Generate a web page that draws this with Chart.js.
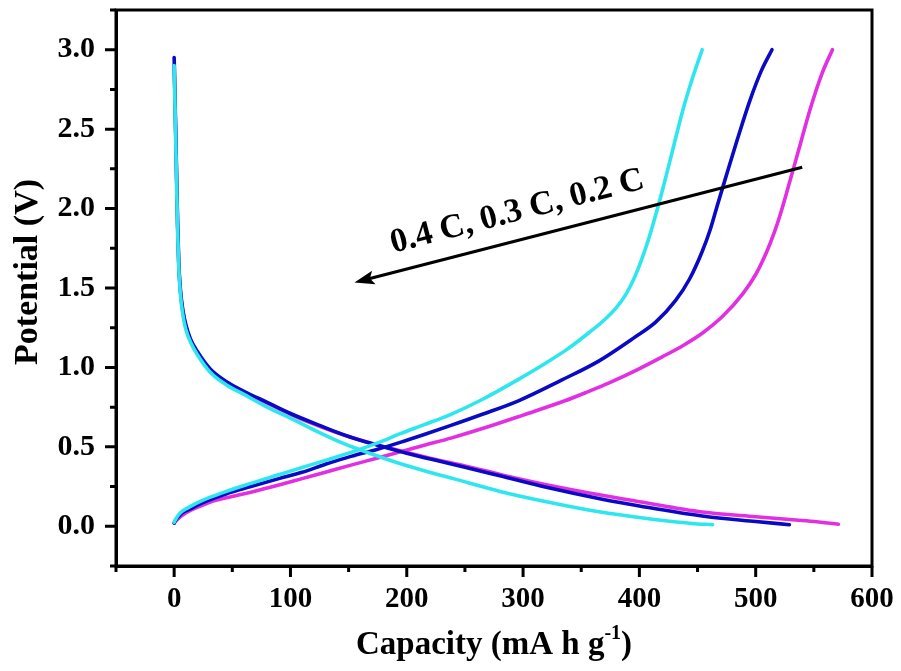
<!DOCTYPE html>
<html>
<head>
<meta charset="utf-8">
<script src="https://cdn.jsdelivr.net/npm/chart.js@4.4.0/dist/chart.umd.min.js"></script>
<style>
  html, body { margin: 0; padding: 0; background: #fff; }
  #wrap { width: 901px; height: 671px; }
</style>
</head>
<body>
<div id="wrap"><canvas id="c" width="901" height="671"></canvas></div>
<script>
// ---- data (capacity in mA h g^-1, potential in V) ----
const rateLabels = ['0.4 C', '0.3 C', '0.2 C'];

const discharge04X = [0, 1, 2, 3, 4, 5.5, 7.5, 10, 14, 20, 31, 45, 60, 80, 103, 125, 146, 168, 190, 215, 240, 281, 320, 368, 400, 426, 445, 463];
const discharge04Y = [2.9, 2.55, 2.2, 1.85, 1.62, 1.45, 1.33, 1.24, 1.16, 1.08, 0.97, 0.89, 0.83, 0.75, 0.67, 0.59, 0.52, 0.46, 0.405, 0.35, 0.30, 0.218, 0.155, 0.088, 0.055, 0.032, 0.018, 0.01];

const discharge03X = [0, 1, 2, 3, 4, 5.5, 7.5, 10, 14, 20, 31, 45, 60, 80, 100, 125, 150, 175, 200, 225, 250, 281, 320, 368, 400, 454, 500, 529];
const discharge03Y = [2.95, 2.6, 2.25, 1.9, 1.65, 1.48, 1.36, 1.27, 1.18, 1.1, 0.99, 0.91, 0.85, 0.78, 0.71, 0.635, 0.565, 0.51, 0.46, 0.415, 0.372, 0.316, 0.245, 0.17, 0.128, 0.065, 0.03, 0.01];

const discharge02X = [0, 1, 2, 3, 4, 5.5, 7.5, 10, 14, 20, 31, 45, 60, 80, 100, 125, 150, 175, 200, 225, 250, 281, 320, 368, 400, 454, 500, 529, 550, 571];
const discharge02Y = [2.9, 2.58, 2.22, 1.88, 1.64, 1.47, 1.35, 1.26, 1.17, 1.09, 0.985, 0.905, 0.845, 0.775, 0.705, 0.63, 0.565, 0.512, 0.465, 0.42, 0.38, 0.325, 0.262, 0.195, 0.155, 0.09, 0.06, 0.043, 0.03, 0.013];

const charge04X = [0, 1, 3, 7, 14, 22, 30, 45, 66, 90, 110, 130, 152, 175, 195, 215, 238, 264, 296, 320, 339, 356, 370, 380, 388, 396, 402, 408, 414, 420, 428, 437, 446, 454];
const charge04Y = [0.025, 0.04, 0.065, 0.095, 0.125, 0.155, 0.18, 0.22, 0.27, 0.325, 0.37, 0.415, 0.465, 0.525, 0.585, 0.64, 0.705, 0.795, 0.925, 1.03, 1.12, 1.215, 1.3, 1.375, 1.455, 1.57, 1.68, 1.81, 1.96, 2.12, 2.35, 2.61, 2.83, 3.0];

const charge03X = [0, 1, 3, 7, 14, 22, 30, 45, 66, 90, 110, 130, 152, 175, 195, 215, 238, 265, 296, 333, 365, 396, 414, 431, 443, 454, 461, 467, 474, 484, 495, 505, 514];
const charge03Y = [0.02, 0.035, 0.055, 0.085, 0.11, 0.14, 0.165, 0.205, 0.25, 0.3, 0.34, 0.39, 0.44, 0.485, 0.53, 0.578, 0.635, 0.705, 0.79, 0.92, 1.04, 1.19, 1.285, 1.42, 1.555, 1.73, 1.87, 2.02, 2.19, 2.43, 2.68, 2.87, 3.0];

const charge02X = [0, 1, 3, 7, 14, 22, 30, 45, 66, 90, 110, 130, 152, 175, 195, 215, 238, 265, 300, 336, 356, 374, 398, 420, 438, 454, 472, 489, 500, 509, 516, 521, 527, 537, 547, 557, 566];
const charge02Y = [0.02, 0.03, 0.045, 0.07, 0.1, 0.125, 0.15, 0.18, 0.215, 0.26, 0.3, 0.34, 0.385, 0.43, 0.47, 0.51, 0.555, 0.615, 0.7, 0.79, 0.848, 0.903, 0.985, 1.068, 1.14, 1.215, 1.325, 1.465, 1.585, 1.72, 1.85, 1.96, 2.11, 2.37, 2.63, 2.85, 3.0];

// axis tick settings
const xMin = -50, xMax = 600, xStep = 50;
const yMin = -0.25, yMax = 3.25, yStep = 0.25;

// annotation (data units)
const arrowTail = { x: 540, y: 2.26 };
const arrowHead = { x: 155, y: 1.535 };
const annotationText = '0.4 C, 0.3 C, 0.2 C';
const annotationPos = { x: 295, y: 1.98 };

const colors = { '0.4 C': '#2EE6EE', '0.3 C': '#0A0AC4', '0.2 C': '#E22FE2' };

function pts(xs, ys) { return xs.map((x, i) => ({ x: x, y: ys[i] })); }

const FONT = '"Liberation Serif", "Times New Roman", serif';

function mkSet(label, xs, ys) {
  return {
    label: label,
    data: pts(xs, ys),
    borderColor: colors[label],
    backgroundColor: colors[label],
    borderWidth: 3.6,
    pointRadius: 0,
    showLine: true,
    fill: false,
    cubicInterpolationMode: 'monotone',
    borderCapStyle: 'round'
  };
}

const datasets = [
  mkSet('0.4 C', discharge04X, discharge04Y),
  mkSet('0.4 C', charge04X, charge04Y),
  mkSet('0.3 C', discharge03X, discharge03Y),
  mkSet('0.3 C', charge03X, charge03Y),
  mkSet('0.2 C', discharge02X, discharge02Y),
  mkSet('0.2 C', charge02X, charge02Y)
];

function isMajorY(v) { return Math.abs(v * 2 - Math.round(v * 2)) < 1e-6 && v > -1e-6 && v < 3 + 1e-6; }
function isMajorX(v) { return Math.abs(v / 100 - Math.round(v / 100)) < 1e-6 && v > -1e-6; }

const decorPlugin = {
  id: 'decor',
  afterDraw(chart) {
    const ctx = chart.ctx;
    const a = chart.chartArea;
    const xs = chart.scales.x, ys = chart.scales.y;
    ctx.save();
    // frame
    ctx.strokeStyle = '#000';
    ctx.lineWidth = 3;
    ctx.strokeRect(a.left, a.top, a.right - a.left, a.bottom - a.top);
    // ticks
    ctx.lineWidth = 3;
    ctx.beginPath();
    xs.ticks.forEach(t => {
      const px = xs.getPixelForValue(t.value);
      const len = isMajorX(t.value) ? 11 : 6;
      ctx.moveTo(px, a.bottom);
      ctx.lineTo(px, a.bottom + len);
    });
    ys.ticks.forEach(t => {
      const py = ys.getPixelForValue(t.value);
      const len = isMajorY(t.value) ? 11 : 6;
      ctx.moveTo(a.left, py);
      ctx.lineTo(a.left - len, py);
    });
    ctx.stroke();

    // axis titles
    ctx.fillStyle = '#000';
    ctx.font = 'bold 33px ' + FONT;
    ctx.textBaseline = 'alphabetic';
    const mainPart = 'Capacity (mA h g';
    const sup = '-1';
    const close = ')';
    const w1 = ctx.measureText(mainPart).width;
    ctx.font = 'bold 20px ' + FONT;
    const w2 = ctx.measureText(sup).width;
    ctx.font = 'bold 33px ' + FONT;
    const w3 = ctx.measureText(close).width;
    const total = w1 + w2 + w3;
    const cx = (a.left + a.right) / 2;
    const sx = cx - total / 2;
    const by = 654;
    ctx.textAlign = 'left';
    ctx.fillText(mainPart, sx, by);
    ctx.font = 'bold 20px ' + FONT;
    ctx.fillText(sup, sx + w1, by - 15);
    ctx.font = 'bold 33px ' + FONT;
    ctx.fillText(close, sx + w1 + w2, by);

    // y title
    ctx.save();
    ctx.translate(37, 272);
    ctx.rotate(-Math.PI / 2);
    ctx.textAlign = 'center';
    ctx.font = 'bold 34px ' + FONT;
    ctx.fillText('Potential (V)', 0, 0);
    ctx.restore();

    // annotation arrow
    const tx = xs.getPixelForValue(arrowTail.x), ty = ys.getPixelForValue(arrowTail.y);
    const hx = xs.getPixelForValue(arrowHead.x), hy = ys.getPixelForValue(arrowHead.y);
    const ang = Math.atan2(hy - ty, hx - tx);
    const headLen = 20, headW = 7;
    const bx = hx - headLen * Math.cos(ang), byy = hy - headLen * Math.sin(ang);
    ctx.lineWidth = 3.2;
    ctx.lineCap = 'butt';
    ctx.beginPath();
    ctx.moveTo(tx, ty);
    ctx.lineTo(bx + 4 * Math.cos(ang), byy + 4 * Math.sin(ang));
    ctx.stroke();
    ctx.beginPath();
    ctx.moveTo(hx, hy);
    ctx.lineTo(bx - headW * Math.sin(ang), byy + headW * Math.cos(ang));
    ctx.lineTo(bx + 4 * Math.cos(ang), byy + 4 * Math.sin(ang));
    ctx.lineTo(bx + headW * Math.sin(ang), byy - headW * Math.cos(ang));
    ctx.closePath();
    ctx.fill();

    // annotation text
    const ax = xs.getPixelForValue(annotationPos.x), ay = ys.getPixelForValue(annotationPos.y);
    ctx.save();
    ctx.translate(ax, ay);
    ctx.rotate(Math.atan2(ty - hy, tx - hx));
    ctx.font = 'bold 34px ' + FONT;
    ctx.textAlign = 'center';
    ctx.textBaseline = 'middle';
    ctx.fillText(annotationText, 0, 0);
    ctx.restore();

    ctx.restore();
  }
};

new Chart(document.getElementById('c'), {
  type: 'scatter',
  data: { datasets: datasets },
  options: {
    responsive: false,
    animation: false,
    devicePixelRatio: 1,
    layout: { padding: { top: 10, right: 29, left: 0, bottom: 0 } },
    plugins: { legend: { display: false }, tooltip: { enabled: false } },
    scales: {
      x: {
        type: 'linear',
        min: xMin, max: xMax,
        afterFit(scale) { scale.height = 105; scale.paddingLeft = 0; scale.paddingRight = 0; },
        grid: { display: true, drawOnChartArea: false, drawTicks: false, color: 'rgba(0,0,0,0)' },
        border: { display: true, color: '#000', width: 3 },
        ticks: {
          stepSize: xStep,
          autoSkip: false,
          maxRotation: 0,
          padding: 16,
          color: '#000',
          font: { family: FONT, size: 29, weight: 'bold' },
          callback: v => isMajorX(v) ? String(Math.round(v)) : ''
        }
      },
      y: {
        type: 'linear',
        min: yMin, max: yMax,
        afterFit(scale) { scale.width = 116; scale.paddingTop = 0; scale.paddingBottom = 0; },
        grid: { display: true, drawOnChartArea: false, drawTicks: false, color: 'rgba(0,0,0,0)' },
        border: { display: true, color: '#000', width: 3 },
        ticks: {
          stepSize: yStep,
          autoSkip: false,
          padding: 21,
          color: '#000',
          font: { family: FONT, size: 30, weight: 'bold' },
          callback: v => isMajorY(v) ? v.toFixed(1) : ''
        }
      }
    }
  },
  plugins: [decorPlugin]
});
</script>
</body>
</html>
